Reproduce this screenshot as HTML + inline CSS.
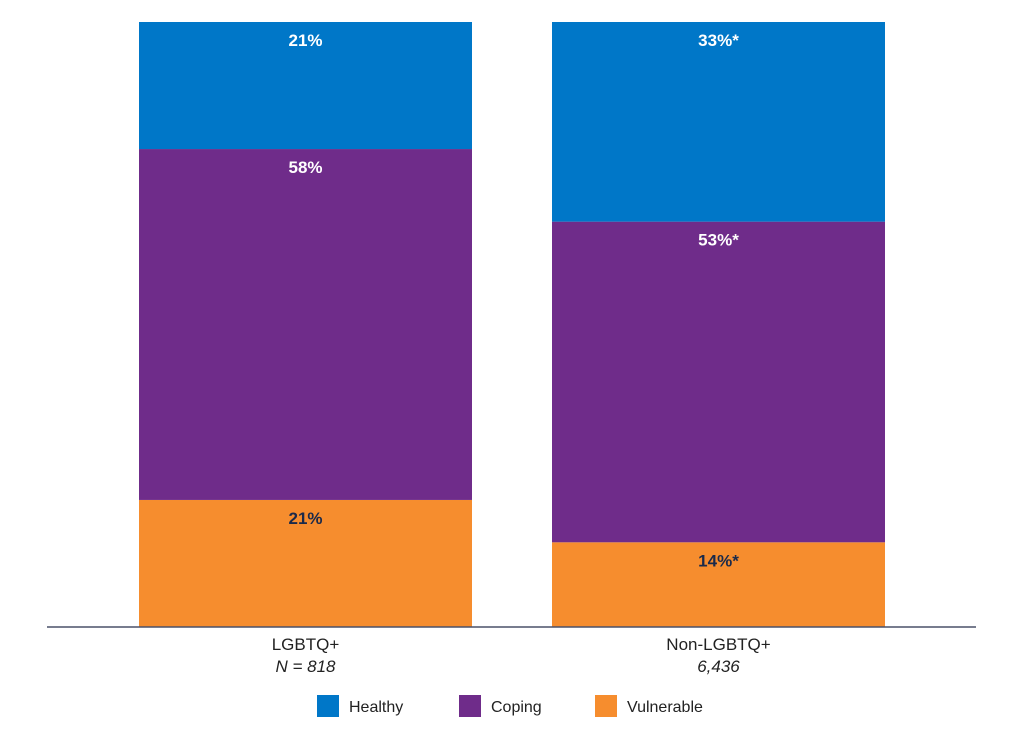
<!DOCTYPE html>
<html><head><meta charset="utf-8">
<style>
html,body{margin:0;padding:0;background:#fff;}
svg{display:block;font-family:"Liberation Sans",sans-serif;}
</style></head>
<body>
<svg id="chart" width="1024" height="731" viewBox="0 0 1024 731" xmlns="http://www.w3.org/2000/svg"></svg>
<script>
const categories = ["LGBTQ+", "Non-LGBTQ+"];
const sampleLabels = ["N = 818", "6,436"];
const seriesNames = ["Vulnerable", "Coping", "Healthy"];
const vulnerable = [21, 14];
const coping = [58, 53];
const healthy = [21, 33];
const valueLabels = [["21%", "14%*"], ["58%", "53%*"], ["21%", "33%*"]];

const NS = "http://www.w3.org/2000/svg";
const svg = document.getElementById("chart");
const colors = ["#F68D2E", "#6F2C8A", "#0077C8"];
const labelColors = ["#1b2a4a", "#ffffff", "#ffffff"];
const series = [vulnerable, coping, healthy];
const yBase = 627, yTop = 22;
function y(v){ return yBase - (v/100)*(yBase - yTop); }
const barX = [139, 552], barW = 333;
function mk(tag, attrs){ const e = document.createElementNS(NS, tag); for (const k in attrs) e.setAttribute(k, attrs[k]); svg.appendChild(e); return e; }

categories.forEach((c, i) => {
  let cum = 0;
  series.forEach((s, j) => {
    const y0 = y(cum), y1 = y(cum + s[i]);
    const r = mk("rect", {x: barX[i], y: y1, width: barW, height: y0 - y1, fill: colors[j]});
    
    
    const t = mk("text", {x: barX[i] + barW/2, y: y1 + 24, "text-anchor": "middle", "font-size": "17", "font-weight": "bold", fill: labelColors[j]});
    t.textContent = valueLabels[j][i];
    
    
    cum += s[i];
  });
  const cl = mk("text", {x: barX[i] + barW/2, y: 650, "text-anchor": "middle", "font-size": "17", fill: "#222"});
  cl.textContent = c;
  
  
  const nl = mk("text", {x: barX[i] + barW/2, y: 672, "text-anchor": "middle", "font-size": "17", "font-style": "italic", fill: "#222"});
  nl.textContent = sampleLabels[i];
  
  
});

const ax = mk("line", {x1: 47, x2: 976, y1: yBase, y2: yBase, stroke: "#4a5068", "stroke-width": 1.5});



const legend = [["Healthy", "#0077C8", 317], ["Coping", "#6F2C8A", 459], ["Vulnerable", "#F68D2E", 595]];
legend.forEach(l => {
  const r = mk("rect", {x: l[2], y: 695, width: 22, height: 22, fill: l[1]});
  
  
  const t = mk("text", {x: l[2] + 32, y: 712, "font-size": "16", fill: "#222"});
  t.textContent = l[0];
  
  
});
</script>
</body></html>
